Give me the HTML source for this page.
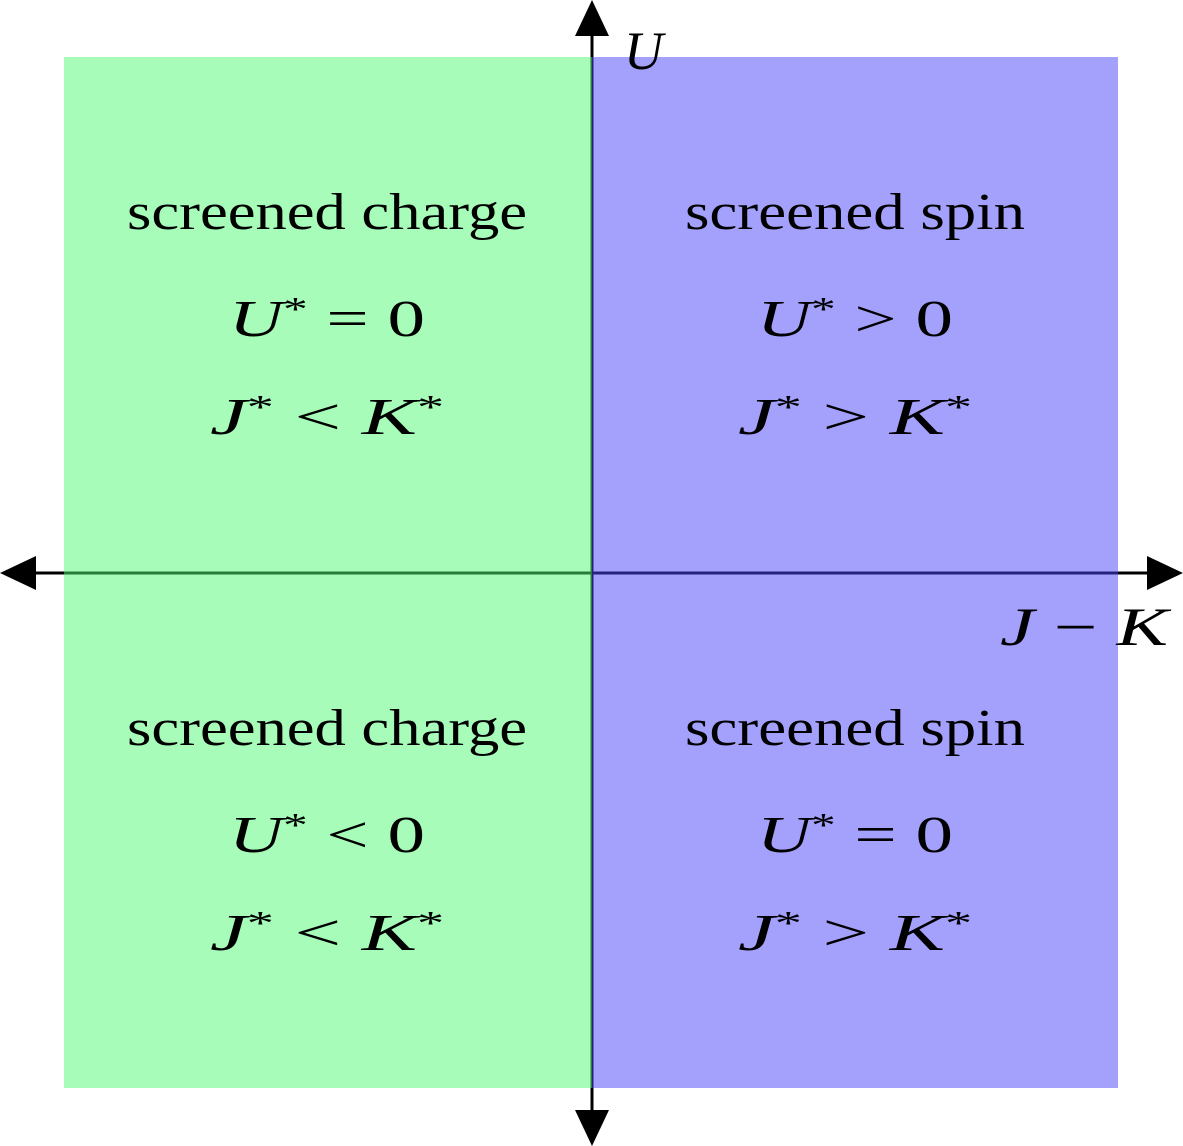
<!DOCTYPE html>
<html><head><meta charset="utf-8"><style>
html,body{margin:0;padding:0;background:#fff;}
svg{display:block;}
text{font-family:"Liberation Serif","Times New Roman",serif;fill:#000;}
.m{font-style:italic;}
.s{font-size:34px;}
</style></head><body>
<svg width="1183" height="1146" viewBox="0 0 1183 1146">
  <line x1="20" y1="573" x2="1165" y2="573" stroke="#000" stroke-width="3"/>
  <line x1="592" y1="20" x2="592" y2="1128" stroke="#000" stroke-width="3"/>
  <rect x="64" y="57" width="528" height="1031" fill="#4dfa72" fill-opacity="0.5"/>
  <rect x="592" y="57" width="526" height="1031" fill="#4a43fb" fill-opacity="0.5"/>
  <polygon points="0,573 36,556 36,590" fill="#000"/>
  <polygon points="1183,573 1147,556 1147,590" fill="#000"/>
  <polygon points="592,0 575,36 609,36" fill="#000"/>
  <polygon points="592,1146 575,1110 609,1110" fill="#000"/>
  <text x="624" y="69" font-size="54" class="m">U</text>
  <text x="1000" y="645" font-size="54" textLength="168" lengthAdjust="spacingAndGlyphs"><tspan class="m">J</tspan> − <tspan class="m">K</tspan></text>

  <g text-anchor="middle" font-size="52">
    <text x="327" y="229" textLength="400" lengthAdjust="spacingAndGlyphs">screened charge</text>
    <text x="327" y="336" textLength="196" lengthAdjust="spacingAndGlyphs"><tspan class="m">U</tspan><tspan class="s" dy="-16">*</tspan><tspan dy="16"> = 0</tspan></text>
    <text x="327" y="434" textLength="234" lengthAdjust="spacingAndGlyphs"><tspan class="m">J</tspan><tspan class="s" dy="-16">*</tspan><tspan dy="16"> &lt; </tspan><tspan class="m">K</tspan><tspan class="s" dy="-16">*</tspan></text>

    <text x="855" y="229" textLength="340" lengthAdjust="spacingAndGlyphs">screened spin</text>
    <text x="855" y="336" textLength="196" lengthAdjust="spacingAndGlyphs"><tspan class="m">U</tspan><tspan class="s" dy="-16">*</tspan><tspan dy="16"> &gt; 0</tspan></text>
    <text x="855" y="434" textLength="234" lengthAdjust="spacingAndGlyphs"><tspan class="m">J</tspan><tspan class="s" dy="-16">*</tspan><tspan dy="16"> &gt; </tspan><tspan class="m">K</tspan><tspan class="s" dy="-16">*</tspan></text>

    <text x="327" y="745" textLength="400" lengthAdjust="spacingAndGlyphs">screened charge</text>
    <text x="327" y="852" textLength="196" lengthAdjust="spacingAndGlyphs"><tspan class="m">U</tspan><tspan class="s" dy="-16">*</tspan><tspan dy="16"> &lt; 0</tspan></text>
    <text x="327" y="950" textLength="234" lengthAdjust="spacingAndGlyphs"><tspan class="m">J</tspan><tspan class="s" dy="-16">*</tspan><tspan dy="16"> &lt; </tspan><tspan class="m">K</tspan><tspan class="s" dy="-16">*</tspan></text>

    <text x="855" y="745" textLength="340" lengthAdjust="spacingAndGlyphs">screened spin</text>
    <text x="855" y="852" textLength="196" lengthAdjust="spacingAndGlyphs"><tspan class="m">U</tspan><tspan class="s" dy="-16">*</tspan><tspan dy="16"> = 0</tspan></text>
    <text x="855" y="950" textLength="234" lengthAdjust="spacingAndGlyphs"><tspan class="m">J</tspan><tspan class="s" dy="-16">*</tspan><tspan dy="16"> &gt; </tspan><tspan class="m">K</tspan><tspan class="s" dy="-16">*</tspan></text>
  </g>
</svg>
</body></html>
